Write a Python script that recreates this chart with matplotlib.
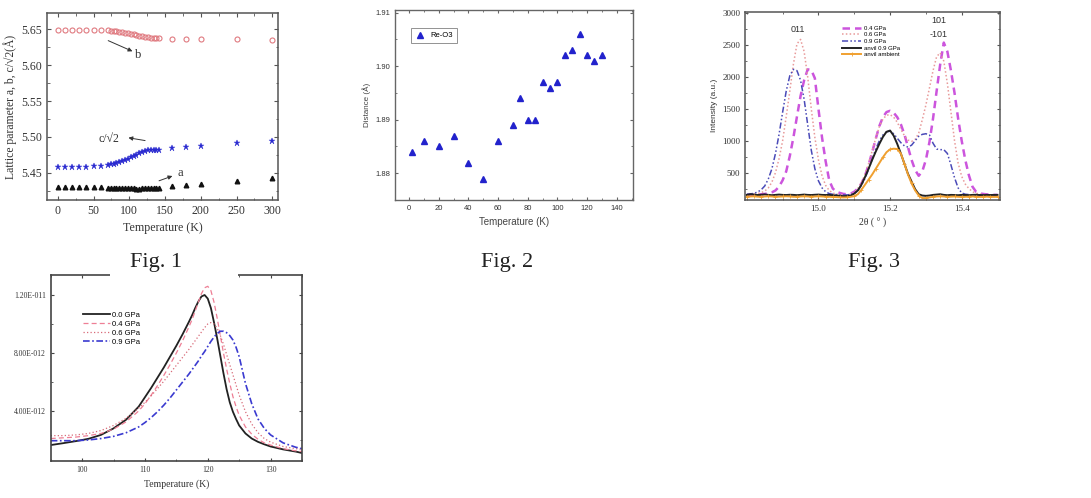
import matplotlib
matplotlib.use("Agg")
import matplotlib.pyplot as plt
from matplotlib.patches import Rectangle
from matplotlib.ticker import MultipleLocator, FuncFormatter

SERIF = ["Liberation Serif", "DejaVu Serif"]
SANS = ["Liberation Sans", "DejaVu Sans"]

# ---- Fig. 1: lattice parameters vs temperature
temps_lat = [0, 10, 20, 30, 40, 50, 60, 70, 74, 78, 82, 86, 90, 94, 98, 102,
             106, 110, 114, 118, 122, 126, 130, 134, 138, 142, 160, 180, 200, 250, 300]
lat_b = [5.6495, 5.6495, 5.6495, 5.6493, 5.6492, 5.6490, 5.6490, 5.6488, 5.6485,
         5.6480, 5.6475, 5.6470, 5.6462, 5.6455, 5.6447, 5.6440, 5.6432, 5.6425,
         5.6415, 5.6405, 5.6395, 5.6390, 5.6385, 5.6380, 5.6378, 5.6376, 5.6370,
         5.6370, 5.6368, 5.6362, 5.6360]
lat_c = [5.4580, 5.4578, 5.4578, 5.4580, 5.4585, 5.4590, 5.4598, 5.4610, 5.4618,
         5.4626, 5.4636, 5.4648, 5.4662, 5.4678, 5.4695, 5.4714, 5.4734, 5.4754,
         5.4772, 5.4788, 5.4802, 5.4812, 5.4818, 5.4820, 5.4822, 5.4823, 5.4845,
         5.4855, 5.4868, 5.4910, 5.4950]
lat_a = [5.4295, 5.4295, 5.4295, 5.4295, 5.4295, 5.4295, 5.4295, 5.4292, 5.4292,
         5.4290, 5.4290, 5.4288, 5.4288, 5.4286, 5.4285, 5.4283, 5.4282, 5.4280,
         5.4280, 5.4281, 5.4283, 5.4285, 5.4287, 5.4288, 5.4290, 5.4290, 5.4322,
         5.4336, 5.4350, 5.4384, 5.4430]

# ---- Fig. 2: Re-O3 distance
temps_reo = [2, 10, 20, 30, 40, 50, 60, 70, 75, 80, 85, 90, 95, 100, 105, 110,
             115, 120, 125, 130]
dist_reo = [1.884, 1.886, 1.885, 1.887, 1.882, 1.879, 1.886, 1.889, 1.894, 1.890,
            1.890, 1.897, 1.896, 1.897, 1.902, 1.903, 1.906, 1.902, 1.901, 1.902]

# ---- Fig. 3: diffraction peaks
two_theta = [14.80, 14.81, 14.82, 14.83, 14.84, 14.85, 14.86, 14.87, 14.88, 14.89,
             14.90, 14.91, 14.92, 14.93, 14.94, 14.95, 14.96, 14.97, 14.98, 14.99,
             15.00, 15.01, 15.02, 15.03, 15.04, 15.05, 15.06, 15.07, 15.08, 15.09,
             15.10, 15.11, 15.12, 15.13, 15.14, 15.15, 15.16, 15.17, 15.18, 15.19,
             15.20, 15.21, 15.22, 15.23, 15.24, 15.25, 15.26, 15.27, 15.28, 15.29,
             15.30, 15.31, 15.32, 15.33, 15.34, 15.35, 15.36, 15.37, 15.38, 15.39,
             15.40, 15.41, 15.42, 15.43, 15.44, 15.45, 15.46, 15.47, 15.48, 15.49,
             15.50]
int_04 = [150, 150, 150, 155, 160, 165, 175, 190, 220, 280,
          380, 520, 760, 1050, 1380, 1700, 1950, 2120, 2110, 1980,
          1500, 1050, 680, 380, 250, 200, 180, 165, 160, 170,
          200, 250, 330, 450, 620, 820, 1030, 1230, 1370, 1450,
          1470, 1440, 1370, 1260, 1100, 900, 700, 540, 450, 520,
          700, 980, 1350, 1780, 2200, 2540, 2400, 2100, 1750, 1350,
          1000, 700, 460, 280, 200, 175, 165, 158, 153, 150,
          150]
int_06 = [150, 155, 160, 170, 185, 210, 260, 350, 500, 720,
          1000, 1380, 1780, 2200, 2520, 2590, 2400, 2000, 1500, 1050,
          700, 450, 300, 220, 180, 160, 155, 150, 150, 160,
          190, 250, 340, 470, 640, 840, 1040, 1220, 1340, 1400,
          1410, 1370, 1290, 1180, 1080, 1010, 990, 1020, 1120, 1330,
          1560, 1830, 2100, 2320, 2380, 2250, 1900, 1450, 1000, 650,
          440, 320, 250, 200, 175, 165, 158, 153, 150, 150,
          150]
int_09 = [160, 165, 175, 195, 230, 290, 400, 560, 800, 1100,
          1450, 1780, 2020, 2120, 2100, 1950, 1650, 1250, 850, 560,
          370, 260, 200, 170, 160, 155, 150, 150, 150, 155,
          175, 220, 300, 410, 550, 710, 870, 1000, 1090, 1140,
          1150, 1110, 1040, 970, 920, 900, 930, 1000, 1070, 1100,
          1110, 1090, 960, 870, 860, 860, 800, 620, 420, 260,
          180, 160, 155, 150, 150, 150, 150, 150, 150, 150,
          150]
int_anvil09 = [150, 160, 155, 148, 152, 158, 150, 145, 150, 155,
               150, 148, 152, 150, 146, 150, 155, 150, 148, 152,
               155, 150, 148, 150, 145, 140, 135, 130, 132, 140,
               170, 220, 310, 430, 560, 700, 830, 950, 1060, 1140,
               1160, 1080, 950, 800, 640, 480, 360, 240, 160, 140,
               135, 140, 150, 155, 160, 150, 145, 150, 148, 145,
               150, 148, 145, 150, 152, 148, 145, 150, 148, 150,
               150]
int_anvilamb = [120, 125, 128, 122, 120, 125, 128, 125, 120, 122,
                125, 128, 125, 120, 122, 125, 128, 125, 122, 125,
                128, 125, 122, 120, 118, 115, 112, 110, 112, 120,
                130, 160, 230, 310, 390, 470, 560, 650, 740, 820,
                865, 875, 870, 800, 640, 470, 330, 220, 140, 100,
                100, 110, 120, 125, 128, 125, 120, 122, 125, 120,
                118, 120, 122, 125, 120, 118, 120, 122, 120, 118,
                120]

# ---- Fig. 4: curves vs temperature under pressure (units of 1e-12)
temps_p = [95, 97, 99, 101, 103, 105, 107, 109, 110, 111, 112, 113, 114, 115, 116,
           117, 117.5, 118, 118.5, 119, 119.5, 120, 120.5, 121, 121.5, 122, 122.5,
           123, 123.5, 124, 124.5, 125, 126, 127, 128, 129, 130, 132, 134, 135]
p00 = [1.65, 1.78, 1.92, 2.08, 2.35, 2.8, 3.4, 4.3, 4.95, 5.6, 6.3, 7.0, 7.75, 8.5,
       9.3, 10.15, 10.6, 11.1, 11.55, 11.9, 12.0, 11.75, 11.1, 10.1, 9.0, 7.8, 6.6,
       5.5, 4.6, 3.95, 3.45, 3.0, 2.45, 2.1, 1.87, 1.7, 1.55, 1.35, 1.2, 1.1]
p04 = [2.1, 2.15, 2.2, 2.3, 2.45, 2.75, 3.25, 4.0, 4.5, 5.1, 5.75, 6.45, 7.2, 8.0,
       8.85, 9.8, 10.3, 10.9, 11.5, 12.1, 12.5, 12.6, 12.3, 11.5, 10.4, 9.2, 8.0,
       6.9, 5.9, 5.0, 4.3, 3.7, 2.9, 2.4, 2.05, 1.8, 1.65, 1.4, 1.25, 1.2]
p06 = [2.3, 2.3, 2.35, 2.45, 2.65, 3.0, 3.5, 4.2, 4.6, 5.05, 5.55, 6.05, 6.6, 7.15,
       7.7, 8.25, 8.55, 8.85, 9.15, 9.45, 9.75, 10.0, 10.1, 10.0, 9.7, 9.2, 8.6,
       7.9, 7.2, 6.5, 5.8, 5.1, 3.95, 3.1, 2.5, 2.1, 1.85, 1.55, 1.4, 1.35]
p09 = [1.95, 1.95, 1.95, 2.0, 2.1, 2.25, 2.5, 2.9, 3.2, 3.55, 3.95, 4.4, 4.9, 5.45,
       6.0, 6.55, 6.85, 7.15, 7.45, 7.8, 8.1, 8.45, 8.8, 9.1, 9.35, 9.5, 9.5, 9.4,
       9.2, 8.9, 8.4, 7.75, 5.9, 4.5, 3.45, 2.8, 2.35, 1.8, 1.5, 1.4]


def style_frame(ax, color="#555555", lw=1.1, maj=3.0, mnr=1.8):
    for s in ax.spines.values():
        s.set_color(color)
        s.set_linewidth(lw)
    ax.tick_params(which="both", direction="in", top=True, right=True,
                   color=color, labelcolor="#333333")
    ax.tick_params(which="major", length=maj, width=0.8)
    ax.tick_params(which="minor", length=mnr, width=0.6)


def main():
    fig = plt.figure(figsize=(10.91, 4.98), dpi=100)

    # Fig. 1
    ax1 = fig.add_axes([0.0431, 0.5984, 0.2117, 0.3755])
    ax1.plot(temps_lat, lat_b, "o", mfc="none", mec="#e07a80", ms=3.6, mew=0.8)
    ax1.plot(temps_lat, lat_c, "*", color="#2a2ad0", ms=4.5, mew=0.3)
    ax1.plot(temps_lat, lat_a, "^", color="#111111", ms=3.3)
    ax1.set_xlim(-15, 308)
    ax1.set_ylim(5.412, 5.673)
    ax1.xaxis.set_major_locator(MultipleLocator(50))
    ax1.xaxis.set_minor_locator(MultipleLocator(25))
    ax1.yaxis.set_major_locator(MultipleLocator(0.05))
    ax1.yaxis.set_minor_locator(MultipleLocator(0.025))
    style_frame(ax1)
    for lab in ax1.get_xticklabels() + ax1.get_yticklabels():
        lab.set_family(SERIF)
        lab.set_fontsize(8.5)
    ax1.set_xlabel("Temperature (K)", family=SERIF, fontsize=8.6, color="#333333")
    ax1.set_ylabel("Lattice parameter a, b, c/\u221a2(\u00c5)", family=SERIF,
                   fontsize=8.4, color="#333333", labelpad=3)
    arrow = dict(arrowstyle="-|>", color="#333333", lw=0.7, mutation_scale=6)
    ax1.annotate("", xy=(108, 5.618), xytext=(67, 5.636), arrowprops=arrow)
    ax1.text(113, 5.614, "b", family=SERIF, fontsize=9, color="#333333",
             ha="center", va="center")
    ax1.annotate("", xy=(95, 5.4995), xytext=(126, 5.4943), arrowprops=arrow)
    ax1.text(71, 5.4975, "c/\u221a2", family=SERIF, fontsize=8.5, color="#333333",
             ha="center", va="center")
    ax1.annotate("", xy=(164, 5.4468), xytext=(138, 5.4375), arrowprops=arrow)
    ax1.text(171, 5.4495, "a", family=SERIF, fontsize=9, color="#333333",
             ha="center", va="center")

    # Fig. 2
    ax2 = fig.add_axes([0.3621, 0.5984, 0.2181, 0.3815])
    ax2.plot(temps_reo, dist_reo, "^", color="#2222cc", ms=4.8, label="Re-O3")
    ax2.set_xlim(-9.5, 151)
    ax2.set_ylim(1.875, 1.9105)
    ax2.xaxis.set_major_locator(MultipleLocator(20))
    ax2.xaxis.set_minor_locator(MultipleLocator(10))
    ax2.yaxis.set_major_locator(MultipleLocator(0.01))
    ax2.yaxis.set_minor_locator(MultipleLocator(0.005))
    ax2.yaxis.set_major_formatter(FuncFormatter(lambda v, p: f"{v:.2f}"))
    style_frame(ax2, color="#666666", lw=1.0, maj=2.5, mnr=1.5)
    for lab in ax2.get_xticklabels() + ax2.get_yticklabels():
        lab.set_family(SANS)
        lab.set_fontsize(5.5)
    ax2.set_xlabel("Temperature (K)", family=SANS, fontsize=7, color="#444444")
    ax2.set_ylabel("Distance (\u00c5)", family=SANS, fontsize=5.8, color="#444444",
                   labelpad=3)
    leg2 = ax2.legend(loc="upper left", bbox_to_anchor=(0.05, 0.925),
                      prop={"family": SANS, "size": 5.5}, fancybox=False,
                      borderpad=0.5, handletextpad=0.6, handlelength=1.5)
    leg2.get_frame().set_edgecolor("#777777")
    leg2.get_frame().set_linewidth(0.7)

    # Fig. 3
    ax3 = fig.add_axes([0.6829, 0.5984, 0.2337, 0.3781])
    ax3.plot(two_theta, int_04, color="#cc55dd", lw=1.8, ls=(0, (3, 2)),
             label="0.4 GPa")
    ax3.plot(two_theta, int_06, color="#e89a9a", lw=1.1, ls=(0, (1, 1.5)),
             label="0.6 GPa")
    ax3.plot(two_theta, int_09, color="#4a4ab8", lw=1.1,
             ls=(0, (4, 1.5, 1, 1.5, 1, 1.5)), label="0.9 GPa")
    ax3.plot(two_theta, int_anvil09, color="#222222", lw=1.4, label="anvil 0.9 GPa")
    ax3.plot(two_theta, int_anvilamb, color="#f0a030", lw=1.4, marker="+",
             ms=2.5, mew=0.6, markevery=2, label="anvil ambient")
    ax3.set_xlim(14.795, 15.507)
    ax3.set_ylim(70, 3025)
    ax3.set_xticks([15.0, 15.2, 15.4])
    ax3.xaxis.set_minor_locator(MultipleLocator(0.1))
    ax3.set_yticks([500, 1000, 1500, 2000, 2500, 3000])
    ax3.yaxis.set_minor_locator(MultipleLocator(250))
    style_frame(ax3, maj=2.5, mnr=1.5)
    for lab in ax3.get_xticklabels() + ax3.get_yticklabels():
        lab.set_family(SERIF)
        lab.set_fontsize(6.5)
    ax3.set_xlabel("2\u03b8 ( \u00b0 )", family=SERIF, fontsize=7, color="#333333")
    ax3.set_ylabel("Intensity (a.u.)", family=SANS, fontsize=6, color="#333333",
                   labelpad=3)
    ax3.legend(loc="upper left", bbox_to_anchor=(0.36, 0.955), frameon=False,
               prop={"family": SANS, "size": 4.3}, handlelength=3.2,
               labelspacing=0.25, handletextpad=0.4)
    ax3.text(14.943, 2750, "011", family=SANS, fontsize=6.5, color="#333333",
             ha="center", va="center")
    ax3.text(15.335, 2885, "101", family=SANS, fontsize=6.5, color="#333333",
             ha="center", va="center")
    ax3.text(15.335, 2670, "-101", family=SANS, fontsize=6.5, color="#333333",
             ha="center", va="center")

    # Fig. 4
    ax4 = fig.add_axes([0.0465, 0.0743, 0.2303, 0.3735])
    scale = 1e-12
    ax4.plot(temps_p, [v * scale for v in p00], color="#222222", lw=1.3,
             label="0.0 GPa")
    ax4.plot(temps_p, [v * scale for v in p04], color="#ee7f95", lw=0.9,
             ls=(0, (4, 2.5)), label="0.4 GPa")
    ax4.plot(temps_p, [v * scale for v in p06], color="#d86a78", lw=0.9,
             ls=(0, (1, 1.8)), label="0.6 GPa")
    ax4.plot(temps_p, [v * scale for v in p09], color="#3a3ad0", lw=1.2,
             ls=(0, (4, 1.5, 1, 1.5)), label="0.9 GPa")
    ax4.set_xlim(95, 135)
    ax4.set_ylim(0.55e-12, 1.338e-11)
    ax4.xaxis.set_major_locator(MultipleLocator(10))
    ax4.xaxis.set_minor_locator(MultipleLocator(5))
    ax4.set_yticks([4e-12, 8e-12, 1.2e-11])
    ax4.yaxis.set_minor_locator(MultipleLocator(2e-12))

    def sci3(v, p):
        m, e = f"{v:.2E}".split("E")
        return f"{m}E{int(e):+04d}"

    ax4.yaxis.set_major_formatter(FuncFormatter(sci3))
    style_frame(ax4, color="#444444", lw=1.2, maj=2.5, mnr=1.5)
    for lab in ax4.get_xticklabels() + ax4.get_yticklabels():
        lab.set_family(SERIF)
        lab.set_fontsize(5.5)
    ax4.set_xlabel("Temperature (K)", family=SERIF, fontsize=7, color="#333333")
    ax4.legend(loc="upper left", bbox_to_anchor=(0.1, 0.84), frameon=False,
               prop={"family": SANS, "size": 5.5}, handlelength=3.6,
               labelspacing=0.2, handletextpad=0.2)

    # captions; the first one sits on a white patch over Fig. 4's frame
    fig.patches.append(Rectangle((110 / 1091, 1 - 279 / 498), 128 / 1091, 30 / 498,
                                 transform=fig.transFigure, facecolor="white",
                                 edgecolor="none", zorder=5))
    for x, txt in [(156, "Fig. 1"), (507, "Fig. 2"), (874, "Fig. 3")]:
        fig.text(x / 1091, 1 - 262 / 498, txt, family=SERIF, fontsize=16,
                 ha="center", va="center", color="#222222", zorder=6)

    fig.savefig("out.png", dpi=100)
    plt.close(fig)


if __name__ == "__main__":
    main()
